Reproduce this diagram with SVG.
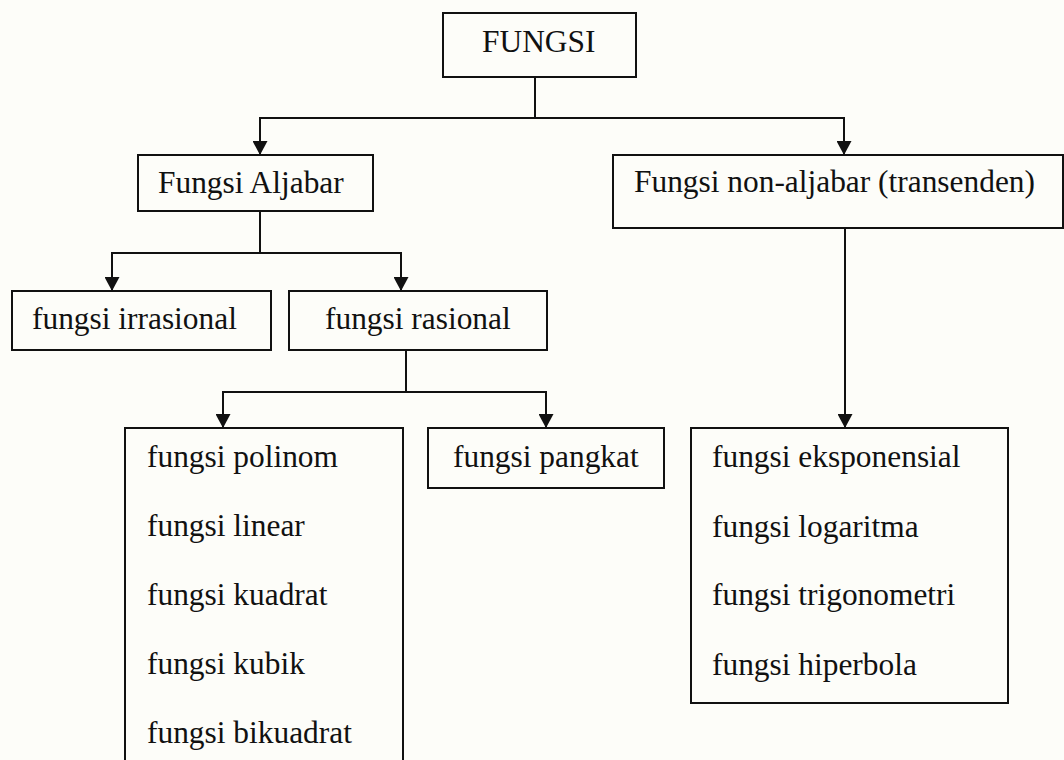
<svg xmlns="http://www.w3.org/2000/svg" width="1064" height="760" viewBox="0 0 1064 760">
<style>
.box{fill:none;stroke:#111;stroke-width:2}
.ln{fill:none;stroke:#111;stroke-width:2}
.arr{marker-end:url(#ah)}
text{font-family:"Liberation Serif","Times New Roman",serif;font-size:31.4px;fill:#111}
</style>
<defs>
<marker id="ah" viewBox="0 0 14 15" refX="14" refY="7.5" markerWidth="14" markerHeight="15" markerUnits="userSpaceOnUse" orient="auto">
<path d="M0,0 L14,7.5 L0,15 z" fill="#111"/>
</marker>
</defs>
<rect width="1064" height="760" fill="#fdfdf9"/>
<g id="connectors">
<path class="ln" d="M535,77 V118"/>
<path class="ln arr" d="M535,118 H260 V155"/>
<path class="ln arr" d="M535,118 H844 V155"/>
<path class="ln" d="M260,211 V253"/>
<path class="ln arr" d="M260,253 H112 V291"/>
<path class="ln arr" d="M260,253 H401 V291"/>
<path class="ln" d="M406,350 V392"/>
<path class="ln arr" d="M406,392 H223 V428"/>
<path class="ln arr" d="M406,392 H546 V428"/>
<path class="ln arr" d="M845,228 V428"/>
</g>
<g id="fungsi">
<rect class="box" x="443" y="13" width="193" height="64"/>
<text x="482" y="52">FUNGSI</text>
</g>
<g id="aljabar">
<rect class="box" x="138" y="155" width="235" height="56"/>
<text x="158" y="193">Fungsi Aljabar</text>
</g>
<g id="nonaljabar">
<rect class="box" x="613" y="155" width="450" height="73"/>
<text x="634" y="192">Fungsi non-aljabar (transenden)</text>
</g>
<g id="irrasional">
<rect class="box" x="12" y="291" width="259" height="59"/>
<text x="32" y="329">fungsi irrasional</text>
</g>
<g id="rasional">
<rect class="box" x="289" y="291" width="258" height="59"/>
<text x="325" y="329">fungsi rasional</text>
</g>
<g id="polinom">
<rect class="box" x="125" y="428" width="278" height="360"/>
<text x="147" y="467">fungsi polinom</text>
<text x="147" y="536">fungsi linear</text>
<text x="147" y="605">fungsi kuadrat</text>
<text x="147" y="674">fungsi kubik</text>
<text x="147" y="743">fungsi bikuadrat</text>
</g>
<g id="pangkat">
<rect class="box" x="428" y="428" width="236" height="60"/>
<text x="453" y="467">fungsi pangkat</text>
</g>
<g id="transenden">
<rect class="box" x="691" y="428" width="317" height="275"/>
<text x="712" y="467">fungsi eksponensial</text>
<text x="712" y="537">fungsi logaritma</text>
<text x="712" y="605">fungsi trigonometri</text>
<text x="712" y="675">fungsi hiperbola</text>
</g>
</svg>
